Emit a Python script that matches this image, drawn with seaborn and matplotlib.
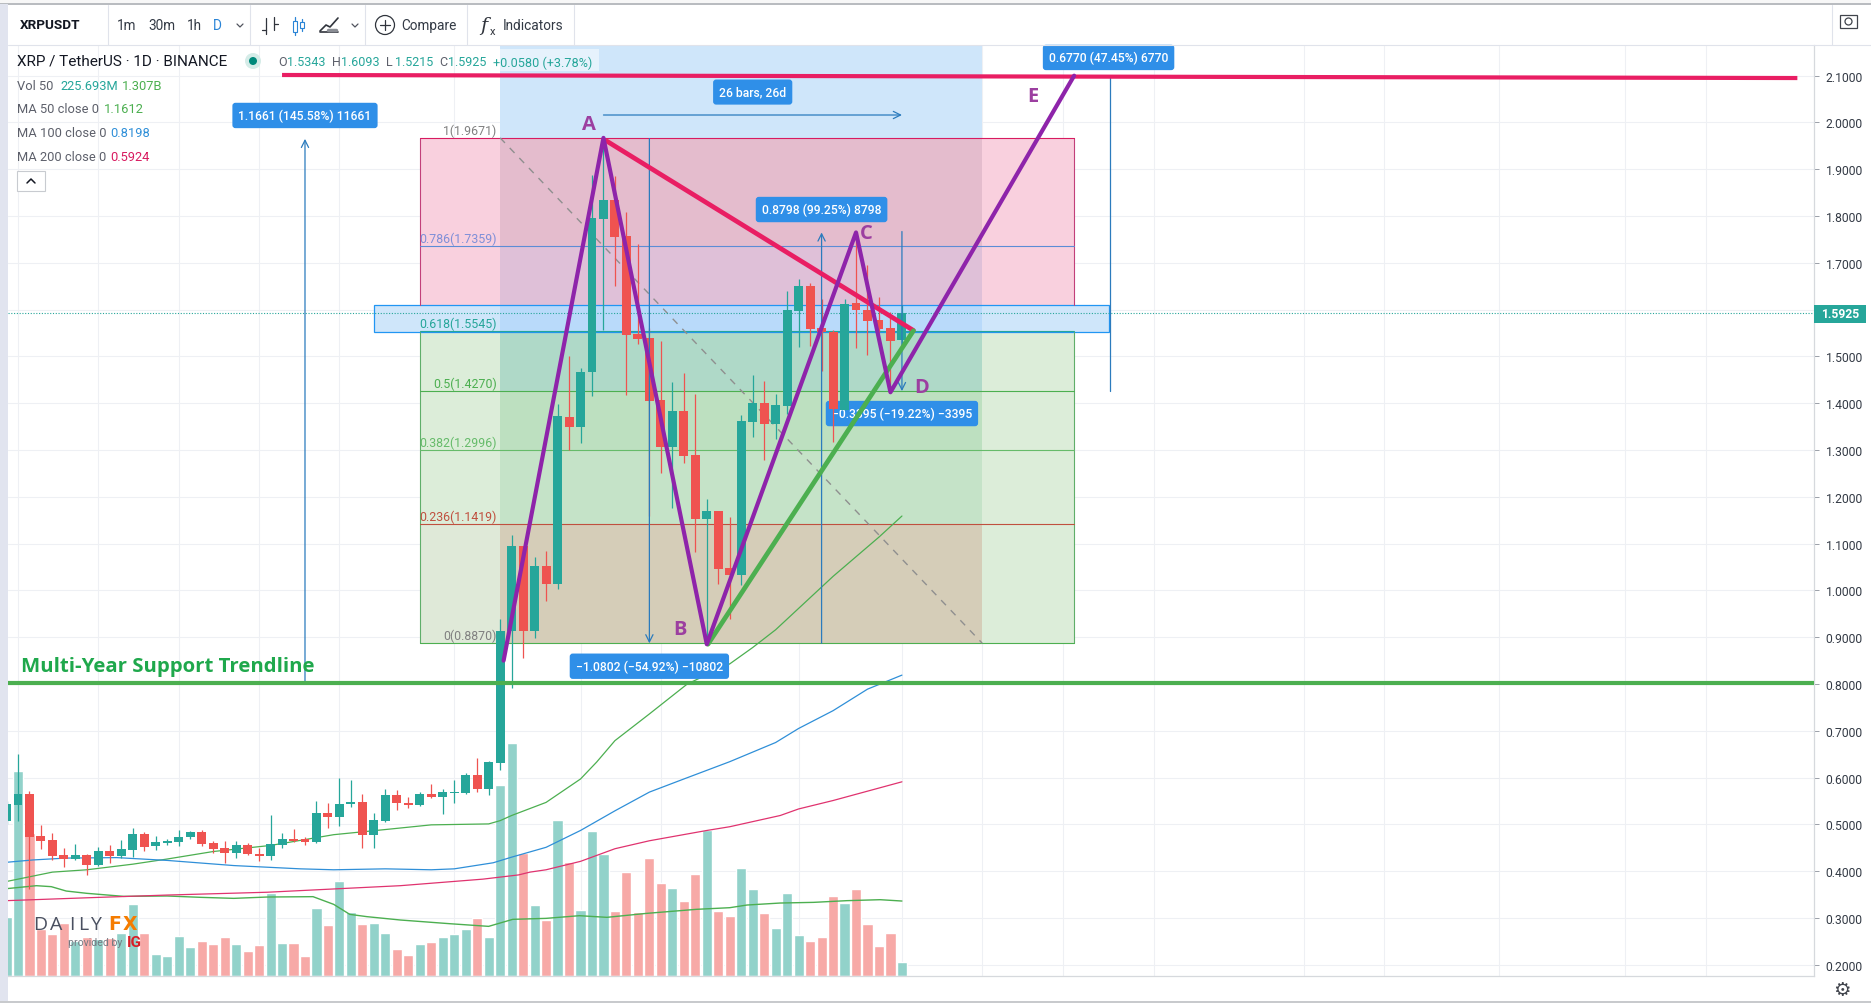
import matplotlib
matplotlib.use('Agg')
import matplotlib.pyplot as plt
import seaborn as sns
from matplotlib.patches import Circle, Rectangle
from matplotlib.transforms import IdentityTransform

# days counted from 22 Feb
days = list(range(-1, 78))
opens = [.507, .542, .565, .475, .467, .435, .425, .435, .413, .443, .433, .446, .479, .453, .461, .463,
         .472, .484, .460, .449, .438, .456, .437, .433, .457, .468, .468, .463, .525, .515, .543, .547,
         .478, .507, .563, .546, .542, .565, .559, .568, .567, .606, .576, .632, .914, 1.094, .914, 1.053,
         1.014, 1.370, 1.350, 1.467, 1.794, 1.834, 1.757, 1.548, 1.539, 1.406, 1.307, 1.383, 1.289, 1.153,
         1.169, 1.047, 1.033, 1.360, 1.401, 1.355, 1.395, 1.598, 1.650, 1.561, 1.553, 1.385, 1.614, 1.600,
         1.577, 1.560, 1.5343]
closes = [.544, .565, .474, .465, .433, .425, .435, .414, .443, .433, .448, .479, .452, .463, .465, .473,
          .484, .459, .448, .438, .456, .436, .433, .458, .468, .465, .463, .525, .515, .543, .547, .478,
          .509, .563, .545, .542, .565, .559, .569, .569, .606, .576, .634, .914, 1.094, .914, 1.053, 1.014,
          1.372, 1.350, 1.467, 1.796, 1.834, 1.756, 1.546, 1.538, 1.404, 1.307, 1.383, 1.288, 1.153, 1.169,
          1.046, 1.033, 1.362, 1.401, 1.356, 1.397, 1.599, 1.650, 1.559, 1.552, 1.387, 1.612, 1.600, 1.575,
          1.559, 1.532, 1.5925]
highs = [.550, .651, .571, .499, .482, .449, .458, .436, .452, .455, .466, .493, .483, .475, .469, .488,
         .486, .488, .464, .465, .465, .460, .449, .520, .482, .490, .473, .549, .546, .599, .595, .564,
         .525, .575, .574, .559, .569, .587, .575, .595, .609, .642, .636, .939, 1.118, 1.094, 1.072, 1.084,
         1.398, 1.500, 1.475, 1.888, 1.967, 1.885, 1.809, 1.740, 1.561, 1.533, 1.446, 1.464, 1.420, 1.195,
         1.169, 1.156, 1.374, 1.460, 1.448, 1.420, 1.640, 1.666, 1.656, 1.622, 1.556, 1.622, 1.765, 1.695,
         1.628, 1.595, 1.6093]
lows = [.500, .507, .362, .448, .423, .408, .423, .391, .411, .418, .428, .431, .444, .446, .456, .453,
        .468, .453, .438, .418, .428, .435, .421, .424, .450, .463, .457, .461, .493, .497, .537, .450,
        .450, .506, .531, .535, .540, .557, .522, .546, .564, .570, .563, .617, .791, .855, .899, .977,
        1.003, 1.301, 1.314, 1.415, 1.556, 1.650, 1.418, 1.527, 1.159, 1.250, 1.177, 1.273, 1.082, .887,
        1.014, .939, 1.011, 1.327, 1.279, 1.324, 1.378, 1.520, 1.523, 1.469, 1.317, 1.385, 1.519, 1.504,
        1.550, 1.421, 1.5215]
volumes = [974, 3377, 2365, 770, 688, 869, 578, 649, 605, 633, 715, 1183, 715, 358, 325, 655, 473, 572, 523,
           638, 523, 407, 506, 1375, 539, 539, 325, 1117, 836, 1562, 1051, 853, 869, 704, 440, 341, 523, 556,
           638, 688, 770, 952, 638, 3146, 3839, 2024, 1166, 919, 2569, 1876, 1084, 2387, 2008, 1067, 1711,
           1051, 1942, 1529, 1447, 1232, 1678, 2404, 1067, 985, 1777, 1430, 1034, 787, 1364, 671, 572, 638,
           1315, 1199, 1430, 853, 490, 704, 226]

ma50_days = [-1, 3, 6, 10, 13, 17, 22, 27.5, 32, 36, 41, 42, 43, 46, 49, 50.4, 52, 55, 58.3, 62, 64, 66, 71, 75, 77]
ma50 = [.378, .398, .403, .415, .426, .442, .455, .478, .489, .499, .501, .508, .519, .547, .597, .633, .679,
        .736, .800, .843, .878, .916, 1.030, 1.114, 1.159]
ma100_days = [-1, 1.3, 4.2, 8.6, 13, 18.8, 24.6, 27.5, 32, 36, 38, 41.4, 43, 46, 49, 52, 55, 58, 62, 66, 68, 71, 74, 77]
ma100 = [.419, .424, .428, .429, .423, .412, .405, .403, .405, .403, .405, .418, .430, .451, .487, .529, .569,
         .597, .634, .675, .705, .743, .789, .819]
ma200_days = [-1, 7, 13, 21.7, 27.5, 33.3, 40.5, 43.6, 44.6, 46, 49, 52, 55, 60, 62, 66.4, 68, 71, 77]
ma200 = [.337, .344, .349, .355, .362, .369, .383, .392, .398, .403, .421, .448, .465, .487, .495, .519, .533,
         .551, .591]
volma_days = [-1, 1.6, 2.9, 4.2, 6, 9.2, 13, 15.9, 18.8, 21.7, 25.7, 27.5, 28.9, 30.4, 33.3, 37.6, 41, 43.1, 46,
              48.9, 51.3, 54.8, 59.1, 62, 63.5, 66.4, 69.3, 72.2, 75.1, 77]
volma = [1441, 1490, 1474, 1402, 1364, 1314, 1320, 1298, 1281, 1303, 1309, 1182, 1017, 979, 924, 863, 819, 935,
         951, 995, 968, 1034, 1100, 1127, 1171, 1204, 1215, 1243, 1259, 1237]

tick_days = [0, 7, 14, 21, 28, 38, 49, 56, 68, 77, 84, 91, 99, 112, 119, 129, 140, 147]
tick_names = ['22', 'Mar', '8', '15', '22', 'Apr', '12', '19', 'May', '10', '17', '24', 'Jun', '14', '21', 'Jul', '12', '19']
price_ticks = [round(0.2 + 0.1 * i, 1) for i in range(20)]

fib_levels = [1.9671, 1.7359, 1.5545, 1.4270, 1.2996, 1.1419, 0.8870]
fib_names = ['1(1.9671)', '0.786(1.7359)', '0.618(1.5545)', '0.5(1.4270)', '0.382(1.2996)', '0.236(1.1419)', '0(0.8870)']
fib_line_cols = ['#d81b60', '#5c8cd6', '#26a69a', '#4caf50', '#66bb6a', '#c0503f', '#4caf50']
fib_text_cols = ['#808080', '#7f8fd8', '#26a69a', '#4caf50', '#66bb6a', '#c0503f', '#808080']
zone_inner = ['#e4bccd', '#dfc0d8', '#afd9c8', '#bde0c0', '#c5e3c8', '#d5cdb8']
zone_outer = ['#f9d0de', '#f9d0de', '#dcedd9', '#dcedd9', '#dcedd9', '#dcedd9']

wave_days = [42.3, 51, 60, 73, 76, 92]
wave_prices = [.85, 1.9671, .885, 1.765, 1.4235, 2.1]
wave_names = ['A', 'B', 'C', 'D', 'E']
wave_name_days = [49.7, 57.7, 73.9, 78.7, 88.4]
wave_name_prices = [1.997, .917, 1.764, 1.435, 2.057]

measure_days = [25, 55, 70, 77]
measure_from = [.8023, 1.9655, .887, 1.767]
measure_to = [1.965, .887, 1.765, 1.426]

note_texts = ['1.1661 (145.58%) 11661', '\u22121.0802 (\u221254.92%) \u221210802', '0.8798 (99.25%) 8798',
              '0.6770 (47.45%) 6770', '26 bars, 26d']
note_days = [25, 55, 70, 95, 64]
note_prices = [2.015, .838, 1.814, 2.139, 2.065]

W, H = 1871, 1004
sns.set_theme(style='white')
plt.rcParams['font.family'] = ['Roboto', 'DejaVu Sans']

TEAL, RED = '#26a69a', '#ef5350'
PURPLE, PINK, GREEN = '#8e24aa', '#e91e63', '#4caf50'
BLUE = '#2f8fe8'
ARROW = '#2b7bbd'
TXT = '#333a45'
px = IdentityTransform()

fig = plt.figure(figsize=(W / 100, H / 100), dpi=100, facecolor='white')
X0, X1, Y0, Y1 = 8, 1814, 46, 977
vol_ax = fig.add_axes([X0 / W, 1 - Y1 / H, (X1 - X0) / W, (Y1 - Y0) / H])
ax = vol_ax.twinx()
ax.set_zorder(vol_ax.get_zorder() + 1)
ax.patch.set_visible(False)

price_lo, price_hi = 0.176, 2.1656
vol_hi = 15361

# volume + grid on the lower axes
up = ['up' if c >= o else 'down' for o, c in zip(opens, closes)]
sns.barplot(x=days, y=volumes, hue=up, palette={'up': '#92d2ca', 'down': '#f7a9a7'}, native_scale=True,
            dodge=False, width=0.88, saturation=1, legend=False, ax=vol_ax, zorder=2)
sns.lineplot(x=volma_days, y=volma, color=GREEN, lw=1, estimator=None, ax=vol_ax, zorder=3)
vol_ax.set_ylim(0, vol_hi)
vol_ax.set_yticks([(p - price_lo) / (price_hi - price_lo) * vol_hi for p in price_ticks])
vol_ax.set_xticks(tick_days)
vol_ax.grid(True, color='#eef0f4', lw=0.8)
vol_ax.set_axisbelow(True)
vol_ax.tick_params(left=False, labelleft=False, right=False, labelright=False, bottom=False, labelbottom=False)
for s in vol_ax.spines.values():
    s.set_visible(False)

ax.set_xlim(-0.871, 156.45)
ax.set_ylim(price_lo, price_hi)

# fib zones
for i in range(6):
    ax.fill_between([35, 92], fib_levels[i + 1], fib_levels[i], color=zone_outer[i], lw=0, zorder=1)
    ax.fill_between([42, 84], fib_levels[i + 1], fib_levels[i], color=zone_inner[i], lw=0, zorder=1.1)
ax.fill_between([35, 42], .887, 1.1419, color='#dfe9d8', lw=0, zorder=1.05)
ax.fill_between([42, 84], 1.9671, price_hi, color='#cfe6fa', lw=0, zorder=1.1)
ax.fill_between([31, 95], 1.5533, 1.609, color='#cfe6fa', lw=0, zorder=1.2)
ax.fill_between([42, 84], 1.5533, 1.609, color='#b9dafa', lw=0, zorder=1.3)
ax.add_patch(Rectangle((31, 1.5533), 64, 0.0557, fill=False, ec='#2196f3', lw=0.9, zorder=1.4))
ax.plot([92, 92], [.887, 1.5533], color='#5fae6a', lw=0.8, zorder=1.5)
ax.plot([92, 92], [1.609, 1.9671], color='#c2407a', lw=0.8, zorder=1.5)
ax.plot([35, 35], [.887, 1.5533], color='#5fae6a', lw=0.8, zorder=1.5)
ax.plot([35, 35], [1.609, 1.9671], color='#c2407a', lw=0.8, zorder=1.5)
for lvl, name, lc, tc in zip(fib_levels, fib_names, fib_line_cols, fib_text_cols):
    ax.plot([35, 92], [lvl, lvl], color=lc, lw=0.8, zorder=1.6)
    ax.text(41.7, lvl + 0.002, name, color=tc, fontsize=8.9, ha='right', va='bottom', zorder=7)
ax.plot([42, 84], [1.9671, .887], color='#8f8f8f', lw=1, ls=(0, (5, 5)), zorder=1.7)

sns.lineplot(x=ma50_days, y=ma50, color=GREEN, lw=0.9, estimator=None, ax=ax, zorder=3)
sns.lineplot(x=ma100_days, y=ma100, color='#2f8fd8', lw=0.9, estimator=None, ax=ax, zorder=3)
sns.lineplot(x=ma200_days, y=ma200, color='#e0336f', lw=0.9, estimator=None, ax=ax, zorder=3)
ax.axhline(closes[-1], color='#26a69a', lw=0.8, ls=(0, (1, 1.5)), zorder=3)

# label that the candles run over
ax.text(77, 1.378, '\u22120.3395 (\u221219.22%) \u22123395', color='white', fontsize=8.7, fontweight='medium',
        ha='center', va='center', zorder=3.5,
        bbox=dict(boxstyle='round,pad=0.5,rounding_size=0.25', fc=BLUE, ec='none'))

cols = [TEAL if c >= o else RED for o, c in zip(opens, closes)]
ax.vlines(days, lows, highs, colors=cols, lw=0.9, zorder=4)
ax.bar(days, [abs(c - o) for o, c in zip(opens, closes)], bottom=[min(o, c) for o, c in zip(opens, closes)],
       width=0.78, color=cols, lw=0, zorder=4.1)

for d, a, b in zip(measure_days, measure_from, measure_to):
    ax.annotate('', xy=(d, b), xytext=(d, a), zorder=5,
                arrowprops=dict(arrowstyle='->', lw=0.9, color=ARROW, shrinkA=0, shrinkB=0, mutation_scale=13))
ax.annotate('', xy=(77, 2.016), xytext=(51, 2.016), zorder=5,
            arrowprops=dict(arrowstyle='->', lw=0.9, color=ARROW, shrinkA=0, shrinkB=0, mutation_scale=13))
ax.plot([95.1, 95.1], [1.427, 2.1], color=ARROW, lw=0.9, zorder=5)

# trend lines
ax.axhline(.8023, color=GREEN, lw=3, zorder=6)
ax.plot([23, 155], [2.1015, 2.095], color=PINK, lw=3, solid_capstyle='butt', zorder=6)
ax.plot([51.3, 78], [1.96, 1.5556], color=PINK, lw=3.4, zorder=6)
ax.plot([60.1, 78], [.885, 1.555], color=GREEN, lw=3.4, zorder=6)
sns.lineplot(x=wave_days, y=wave_prices, color=PURPLE, lw=3, sort=False, estimator=None, ax=ax, zorder=6.5)
for name, d, p in zip(wave_names, wave_name_days, wave_name_prices):
    ax.text(d, p, name, color='#9c3fa0', fontsize=14.5, fontweight='bold', family='Open Sans',
            ha='center', va='center', zorder=7)

for s, d, p in zip(note_texts, note_days, note_prices):
    ax.text(d, p, s, color='white', fontsize=8.7, fontweight='medium', ha='center', va='center', zorder=8,
            bbox=dict(boxstyle='round,pad=0.5,rounding_size=0.25', fc=BLUE, ec='none'))

ax.text(0.25, .8395, 'Multi-Year Support Trendline', color='#1fa84c', fontsize=14.7, fontweight='bold',
        family='Open Sans', ha='left', va='center', zorder=8)

ax.set_xticks(tick_days)
ax.set_xticklabels(tick_names)
ax.set_yticks(price_ticks)
# 1.6000 sits under the last price tag
ax.set_yticklabels(['' if p == 1.6 else '%.4f' % p for p in price_ticks])
ax.yaxis.tick_right()
ax.tick_params(axis='y', length=3.5, width=0.7, color='#9aa0a8', labelsize=8.7, labelcolor=TXT, pad=5)
ax.tick_params(axis='x', length=0, labelsize=9.3, labelcolor=TXT, pad=5, bottom=True, labelbottom=True)
ax.grid(False)
for k, s in ax.spines.items():
    s.set_visible(k in ('right', 'bottom'))
    s.set_color('#d6d9dd')
    s.set_linewidth(0.9)
ax.set_xlabel('')
ax.set_ylabel('')


def chrome_text(x, y, s, color=TXT, size=9.8, **kw):
    kw.setdefault('ha', 'left')
    kw.setdefault('va', 'center')
    return fig.text(x, H - y, s, color=color, fontsize=size, transform=px, zorder=20, **kw)


def chrome_line(xs, ys, color='#e0e3eb', lw=0.8):
    fig.add_artist(plt.Line2D(xs, [H - y for y in ys], color=color, lw=lw, transform=px, zorder=15))


def chrome_rect(x, y, w, h, fc, ec='none', lw=0, zorder=12):
    fig.add_artist(Rectangle((x, H - y - h), w, h, fc=fc, ec=ec, lw=lw, transform=px, zorder=zorder))


# toolbar and frame
chrome_rect(0, 0, W, 5, '#f7f7f7')
chrome_rect(0, 4, W, 2, '#b9bcc0')
chrome_rect(0, 5, 8, H - 5, '#e1e4ef')
chrome_rect(0, H - 2, W, 2, '#c8cacd')
chrome_line([8, W], [46, 46])
for x in (108, 250, 365, 467, 574):
    chrome_line([x, x], [6, 46])
chrome_line([1832, 1832], [6, 46])
chrome_text(20, 26, 'XRPUSDT', color='#131722', size=9.7, fontweight='bold')
chrome_text(117, 26, '1m')
chrome_text(148, 26, '30m')
chrome_text(187, 26, '1h')
chrome_text(213, 26, 'D', color='#2a84d6')
for cx in (240, 355):
    chrome_line([cx - 3, cx, cx + 3], [25, 28, 25], color='#50535e', lw=0.9)
# bars icon
chrome_line([266, 266], [19, 35], color='#30343c', lw=0.9)
chrome_line([262, 266], [31, 31], color='#30343c', lw=0.9)
chrome_line([274, 274], [18, 31], color='#30343c', lw=0.9)
chrome_line([274, 278], [25, 25], color='#30343c', lw=0.9)
# candles icon
chrome_line([295, 295], [18, 36], color='#2a84d6', lw=0.9)
chrome_rect(293, 22, 4, 11, 'white', ec='#2a84d6', lw=0.8, zorder=16)
chrome_line([302, 302], [20, 32], color='#2a84d6', lw=0.9)
chrome_rect(300, 23, 4, 6, 'white', ec='#2a84d6', lw=0.8, zorder=16)
# area icon
chrome_line([320, 326, 330, 338], [32, 26, 28, 19], color='#30343c', lw=1.2)
chrome_line([320, 338], [33, 33], color='#30343c', lw=1.2)
chrome_line([328, 336], [31, 31], color='#8a8d94', lw=2.5)
fig.add_artist(Circle((385, H - 26), 9.5, fill=False, ec='#30343c', lw=0.9, transform=px, zorder=15))
chrome_line([385, 385], [21, 31], color='#30343c', lw=0.9)
chrome_line([380, 390], [26, 26], color='#30343c', lw=0.9)
chrome_text(401, 26, 'Compare')
fig.text(480, H - 26, 'f', fontsize=14, style='italic', family='DejaVu Serif', color='#30343c', va='center',
         transform=px, zorder=20)
fig.text(490, H - 32, 'x', fontsize=8, color='#30343c', va='center', transform=px, zorder=20)
chrome_text(503, 26, 'Indicators')
chrome_rect(1840, 16, 17, 13, 'white', ec='#40444c', lw=0.9, zorder=16)
fig.add_artist(Circle((1848.5, H - 22.5), 3.5, fill=False, ec='#40444c', lw=0.9, transform=px, zorder=17))
fig.text(1842, H - 991, '\u2699', fontsize=14, family='DejaVu Sans', color='#40444c', ha='center', va='center',
         transform=px, zorder=20)

# legend block
chrome_rect(500, 50, 99, 22, '#e6f2fc')
chrome_text(17, 62, 'XRP / TetherUS \u00b7 1D \u00b7 BINANCE', color='#131722', size=11)
fig.add_artist(Circle((253, H - 62), 8, fc='#d5ece8', ec='none', transform=px, zorder=15))
fig.add_artist(Circle((253, H - 62), 4, fc='#00897b', ec='none', transform=px, zorder=16))
for x, lab, val in [(278, 'O', '1.5343'), (332, 'H', '1.6093'), (386, 'L', '1.5215'), (439, 'C', '1.5925')]:
    chrome_text(x, 63, lab, color='#5d606b', size=9)
    chrome_text(x + 9, 63, val, color=TEAL, size=9)
chrome_text(493, 63, '+0.0580 (+3.78%)', color=TEAL, size=9.1)
chrome_text(17, 87, 'Vol 50', color='#5d606b', size=9.3)
chrome_text(60, 87, '225.693M', color=TEAL, size=9.3)
chrome_text(122, 87, '1.307B', color=GREEN, size=9.3)
chrome_text(17, 110, 'MA 50 close 0', color='#5d606b', size=9.3)
chrome_text(104, 110, '1.1612', color=GREEN, size=9.3)
chrome_text(17, 134, 'MA 100 close 0', color='#5d606b', size=9.3)
chrome_text(110, 134, '0.8198', color='#2f8fd8', size=9.3)
chrome_text(17, 158, 'MA 200 close 0', color='#5d606b', size=9.3)
chrome_text(110, 158, '0.5924', color='#d81b60', size=9.3)
chrome_rect(17, 172, 28, 20, 'white', ec='#c8cbd0', lw=0.8)
chrome_line([27, 31, 35], [184, 180, 184], color='#131722', lw=1.1)

# last price tag
chrome_rect(1814, 306, 52, 18, TEAL)
chrome_text(1840, 315, '%.4f' % closes[-1], color='white', size=8.7, ha='center', fontweight='bold')

# logo, spaced out by hand
for x, ch in zip([33, 50, 69, 78, 90], 'DAILY'):
    chrome_text(x, 925, ch, color='#4a5060', size=14, family='Open Sans')
chrome_text(108, 925, 'F', color='#f57c00', size=13.5, fontweight='bold', family='DejaVu Sans')
chrome_text(123, 925, 'X', color='#f57c00', size=13.5, fontweight='bold', family='DejaVu Sans')
chrome_text(68, 943, 'provided by', color='#757982', size=7.6)
chrome_text(127, 943, 'IG', color='#d81f26', size=11, fontweight='bold')

fig.savefig('out.png', dpi=100)
